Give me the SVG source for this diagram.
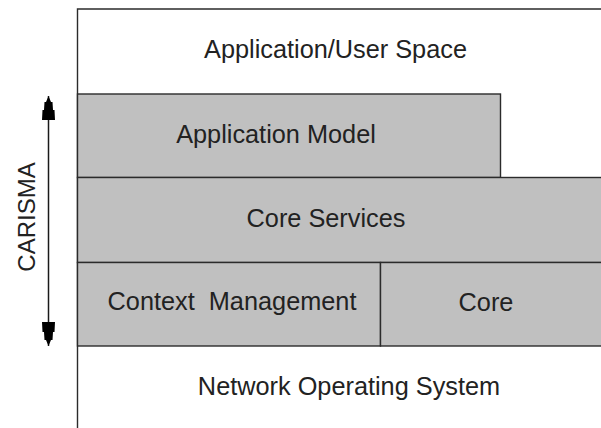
<svg xmlns="http://www.w3.org/2000/svg" width="601" height="428" viewBox="0 0 601 428">
  <style>
    .frame { fill: none; stroke: #2b2b2b; stroke-width: 1.4; }
    .layer { fill: #c0c0c0; stroke: #2b2b2b; stroke-width: 1.4; }
    .lbl { font-family: "Liberation Sans", Arial, sans-serif; font-size: 25.3px; fill: #222; text-anchor: middle; }
    .side { font-size: 24px; }
    .conn { stroke: #1a1a1a; stroke-width: 1.5; fill: none; }
  </style>
  <defs>
    <marker id="head" markerUnits="userSpaceOnUse" markerWidth="26" markerHeight="14" viewBox="0 0 26 14" refX="24" refY="7" orient="auto-start-reverse">
      <polygon points="24,7 18,4.5 18,3 10,2.5 10,1 0,0.5 0,13.5 10,13 10,11.5 18,11 18,9.5" fill="#000"/>
    </marker>
  </defs>

  <g id="application-user-space">
    <path class="frame" d="M77.5,428 V9 H602"/>
    <text class="lbl" x="335.5" y="58">Application/User Space</text>
  </g>

  <g id="application-model">
    <rect class="layer" x="77.5" y="94" width="423" height="83.5"/>
    <text class="lbl" x="276" y="143">Application Model</text>
  </g>

  <g id="core-services">
    <rect class="layer" x="77.5" y="177.5" width="530" height="85"/>
    <text class="lbl" x="326" y="227">Core Services</text>
  </g>

  <g id="context-management">
    <rect class="layer" x="77.5" y="262.5" width="303" height="83.5"/>
    <text class="lbl" x="232" y="310" xml:space="preserve">Context  Management</text>
  </g>

  <g id="core">
    <rect class="layer" x="380.5" y="262.5" width="230" height="83.5"/>
    <text class="lbl" x="486" y="311">Core</text>
  </g>

  <g id="network-operating-system">
    <text class="lbl" x="349" y="395">Network Operating System</text>
  </g>

  <g id="carisma">
    <text class="lbl side" transform="translate(35,217) rotate(-90)" x="0" y="0">CARISMA</text>
  </g>

  <g id="connectors">
    <line class="conn" x1="48.5" y1="96" x2="48.5" y2="346" marker-start="url(#head)" marker-end="url(#head)"/>
  </g>
</svg>
